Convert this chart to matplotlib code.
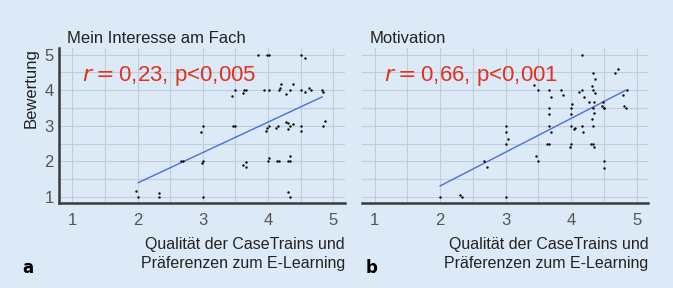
import matplotlib.pyplot as plt
import numpy as np

plt.rcParams['font.family'] = ['Liberation Sans', 'DejaVu Sans']

# Panel a: "Mein Interesse am Fach"
a_x = [1.97, 2.0, 2.33, 2.33, 2.67, 2.69, 2.97, 3.0, 2.99, 3.0, 3.0,
       3.45, 3.46, 3.5, 3.5, 3.62, 3.63, 3.66, 3.62, 3.67, 3.67,
       3.84, 3.94, 3.98, 4.01, 4.01, 3.97, 3.98, 4.01, 4.02, 4.0,
       4.12, 4.16, 4.14, 4.17, 4.17, 4.18, 4.2, 4.28, 4.33, 4.38,
       4.28, 4.3, 4.33, 4.3, 4.38, 4.33, 4.31, 4.34, 4.3, 4.33,
       4.5, 4.56, 4.5, 4.51, 4.5, 4.56, 4.63, 4.66, 4.83, 4.85, 4.84, 4.88]
a_y = [1.18, 1.0, 1.1, 1.0, 2.0, 2.0, 2.82, 3.0, 1.96, 2.0, 1.0,
       3.84, 3.0, 3.0, 4.0, 3.92, 4.0, 4.0, 1.89, 1.98, 1.85,
       5.0, 4.0, 5.0, 5.0, 4.0, 2.86, 2.93, 3.0, 2.1, 2.0,
       2.93, 3.0, 2.0, 2.0, 4.0, 4.06, 4.17, 3.9, 4.0, 4.18,
       3.1, 3.07, 3.0, 2.9, 3.04, 2.16, 2.02, 2.0, 1.14, 1.0,
       5.0, 4.9, 4.0, 3.0, 2.84, 3.94, 4.06, 4.0, 4.0, 3.94, 3.0, 3.12]
a_fit_x = [2.01, 4.83]
a_fit_y = [1.40, 3.81]

# Panel b: "Motivation"
b_x = [2.0, 2.31, 2.33, 2.67, 2.71, 3.0, 3.0, 3.03, 3.0, 3.0,
       3.44, 3.46, 3.5, 3.5, 3.63, 3.67, 3.67, 3.69, 3.67, 3.66, 3.67, 3.7,
       3.84, 3.88, 4.0, 4.0, 4.02, 4.0, 4.04, 4.06, 4.0, 3.98,
       4.12, 4.17, 4.17, 4.19, 4.17, 4.18, 4.28, 4.32, 4.34, 4.34,
       4.36, 4.37, 4.35, 4.33, 4.35, 4.32, 4.33, 4.31, 4.34, 4.35,
       4.48, 4.5, 4.49, 4.51, 4.5, 4.51, 4.67, 4.72, 4.79, 4.85, 4.81, 4.84]
b_y = [1.0, 1.05, 1.0, 2.0, 1.83, 3.0, 2.82, 2.62, 2.49, 1.0,
       4.15, 2.16, 4.0, 2.0, 2.49, 2.49, 4.0, 3.8, 3.5, 3.33, 3.0, 2.82,
       4.0, 3.85, 3.5, 3.33, 3.61, 3.0, 2.9, 2.93, 2.49, 2.41,
       3.95, 4.0, 5.0, 3.81, 3.0, 2.82, 3.66, 4.11, 4.48, 4.0,
       3.92, 4.31, 3.66, 3.5, 3.35, 3.18, 3.0, 2.48, 2.49, 2.4,
       3.54, 3.5, 3.67, 3.5, 2.0, 1.82, 4.48, 4.6, 3.87, 4.0, 3.54, 3.5]
b_fit_x = [2.0, 4.84]
b_fit_y = [1.31, 4.0]

titles = ['Mein Interesse am Fach', 'Motivation']
stats = ['0,23, p<0,005', '0,66, p<0,001']
panel_letters = ['a', 'b']
ticks = [1, 2, 3, 4, 5]

bg = '#dce9f6'
red = '#e0321c'

fig = plt.figure(figsize=(6.73, 2.88), dpi=100, facecolor=bg)
ax_a = fig.add_axes([0.0881, 0.294, 0.4245, 0.539])
ax_b = fig.add_axes([0.5374, 0.294, 0.4259, 0.539])

panels = [(ax_a, a_x, a_y, a_fit_x, a_fit_y), (ax_b, b_x, b_y, b_fit_x, b_fit_y)]

for i, (ax, xs, ys, fx, fy) in enumerate(panels):
    ax.set_facecolor(bg)
    ax.set_xlim(0.8, 5.18)
    ax.set_ylim(0.82, 5.18)

    # grid every half step
    for g in np.arange(1, 5.01, 0.5):
        ax.axvline(g, color='#c3cdd8', lw=0.8, zorder=0)
        ax.axhline(g, color='#c3cdd8', lw=0.8, zorder=0)

    ax.plot(fx, fy, color='#4a6fdc', lw=1.0, zorder=2)
    ax.scatter(xs, ys, s=3, color='black', linewidths=0, zorder=3)

    for side in ['top', 'right', 'left']:
        ax.spines[side].set_visible(False)
    ax.spines['bottom'].set_color('#3a3a3a')
    ax.spines['bottom'].set_linewidth(1.8)

    ax.set_xticks(ticks)
    ax.set_xticklabels([str(t) for t in ticks])
    ax.tick_params(axis='x', length=0, pad=7, labelsize=12, labelcolor='#555555')

    ax.set_title(titles[i], loc='left', fontsize=12, color='#222222', pad=4, x=0.027)
    ax.text(0.078, 0.82, r'$r = $' + stats[i], transform=ax.transAxes,
            fontsize=16, color=red, va='center', ha='left')
    ax.text(1.0, -0.215, 'Qualität der CaseTrains und\nPräferenzen zum E-Learning',
            transform=ax.transAxes, ha='right', va='top', fontsize=11.5,
            color='#222222', linespacing=1.35)

ax_a.spines['left'].set_visible(True)
ax_a.spines['left'].set_color('#3a3a3a')
ax_a.spines['left'].set_linewidth(1.8)
ax_a.set_yticks(ticks)
ax_a.set_yticklabels([str(t) for t in ticks])
ax_a.tick_params(axis='y', length=0, pad=4, labelsize=12, labelcolor='#555555')
ax_a.set_ylabel('Bewertung', loc='top', fontsize=12, color='#222222', labelpad=4)
ax_b.set_yticks([])

fig.text(22 / 673, 1 - 268 / 288, panel_letters[0], fontsize=12, fontweight='bold',
         ha='left', va='center', family='DejaVu Sans')
fig.text(366 / 673, 1 - 268 / 288, panel_letters[1], fontsize=12, fontweight='bold',
         ha='left', va='center', family='DejaVu Sans')

fig.savefig('out.png', dpi=100, facecolor=bg)
